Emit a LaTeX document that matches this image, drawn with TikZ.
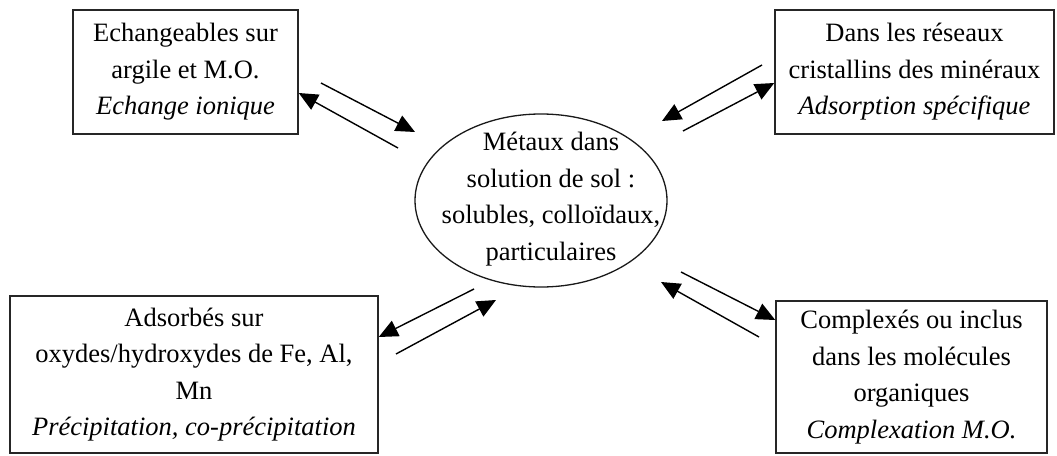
\documentclass[tikz,border=0pt]{standalone}
\usepackage{fontspec}
\setmainfont{Liberation Serif}
\usetikzlibrary{shapes.geometric,arrows.meta}
\tikzset{
  boxnode/.style={draw=black!85, line width=1.5pt, inner sep=0pt, align=center,
    font=\fontsize{26.5}{36.5}\selectfont},
  ellnode/.style={draw=black!90, line width=1.3pt, ellipse, inner sep=0pt},
  txtnode/.style={inner sep=0pt, align=center, font=\fontsize{26.5}{36.5}\selectfont},
  flow/.style={line width=1.4pt, -{Triangle[length=19pt,width=17pt]}}
}
\begin{document}
\begin{tikzpicture}[x=1pt,y=-1pt]
\useasboundingbox (0,0) rectangle (1057,455);
% boxes
\node[boxnode, minimum width=225pt, minimum height=124pt] (tl) at (185.5,72)
  {Echangeables sur\\argile et M.O.\\\textit{Echange ionique}};
\node[boxnode, minimum width=279pt, minimum height=124pt] (tr) at (914.5,72)
  {Dans les réseaux\\cristallins des minéraux\\\textit{Adsorption spécifique}};
\node[boxnode, minimum width=368pt, minimum height=157pt] (bl) at (194,374.5)
  {Adsorbés sur\\oxydes/hydroxydes de Fe, Al,\\Mn\\\textit{Précipitation, co-précipitation}};
\node[boxnode, minimum width=271pt, minimum height=152pt] (br) at (911.5,377)
  {Complexés ou inclus\\dans les molécules\\organiques\\\textit{Complexation M.O.}};
% ellipse
\node[ellnode, minimum width=252pt, minimum height=173pt] (el) at (541,200.5) {};
\node[txtnode] (eltext) at (551,199)
  {Métaux dans\\solution de sol :\\solubles, colloïdaux,\\particulaires};
% arrow end points
\coordinate (a1s) at (321,83);  \coordinate (a1e) at (415,132);
\coordinate (a2s) at (398,148); \coordinate (a2e) at (tl.east |- 0,93);
\coordinate (b1s) at (762,65);  \coordinate (b1e) at (662,121);
\coordinate (b2s) at (683,131); \coordinate (b2e) at (tr.west |- 0,83);
\coordinate (c1s) at (474,289); \coordinate (c1e) at (bl.east |- 0,337);
\coordinate (c2s) at (396,354); \coordinate (c2e) at (496,300);
\coordinate (d1s) at (681,272); \coordinate (d1e) at (br.west |- 0,320);
\coordinate (d2s) at (759,337); \coordinate (d2e) at (661,282);
% arrows
\draw[flow] (a1s) -- (a1e);
\draw[flow] (a2s) -- (a2e);
\draw[flow] (b1s) -- (b1e);
\draw[flow] (b2s) -- (b2e);
\draw[flow] (c1s) -- (c1e);
\draw[flow] (c2s) -- (c2e);
\draw[flow] (d1s) -- (d1e);
\draw[flow] (d2s) -- (d2e);
\end{tikzpicture}
\end{document}
